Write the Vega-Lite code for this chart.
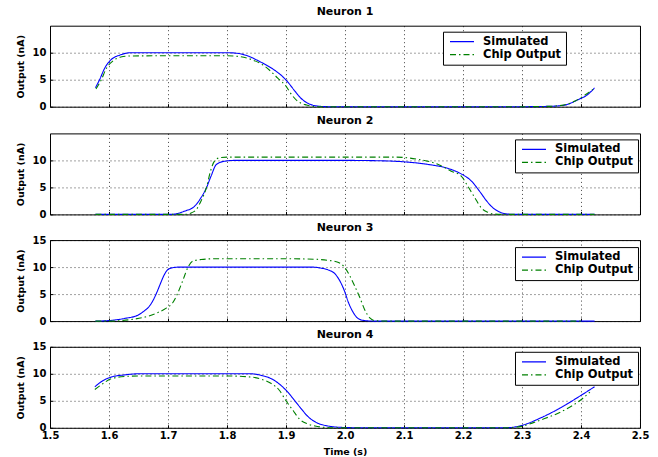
{
  "$schema": "https://vega.github.io/schema/vega-lite/v6.json",
  "background": "white",
  "padding": {"top": 4.7, "left": 14, "right": 10, "bottom": 0},
  "config": {
    "view": {"stroke": "#000", "strokeWidth": 1},
    "font": "DejaVu Sans",
    "concat": {"spacing": 0.7},
    "title": {"font": "DejaVu Sans", "fontSize": 11, "fontWeight": "bold", "color": "#000"},
    "axis": {
      "labelFont": "DejaVu Sans", "labelFontWeight": "bold", "labelFontSize": 10, "labelColor": "#000",
      "titleFont": "DejaVu Sans", "titleFontWeight": "bold", "titleFontSize": 9.5, "titleColor": "#000",
      "grid": true, "gridColor": "#000", "gridDash": [1, 3], "gridOpacity": 0.75, "gridWidth": 1,
      "domain": false, "ticks": true, "tickSize": -3, "tickColor": "#000", "labelPadding": 7, "titlePadding": 7
    },
    "legend": {
      "strokeColor": "#000", "fillColor": "#fff", "padding": 4, "cornerRadius": 0,
      "labelFont": "DejaVu Sans", "labelFontWeight": "bold", "labelFontSize": 11.5, "labelColor": "#000",
      "symbolType": "M-2.4,0H2.4", "symbolSize": 100, "symbolStrokeWidth": 1.2, "symbolOffset": 9, "labelOffset": 15, "rowPadding": 1
    }
  },
  "resolve": {"legend": {"color": "independent"}},
  "datasets": {
    "d": [
      {"n":1,"s":"Simulated","t":1.577,"v":3.5},{"n":1,"s":"Simulated","t":1.584,"v":5.0},{"n":1,"s":"Simulated","t":1.593,"v":7.2},{"n":1,"s":"Simulated","t":1.604,"v":8.75},{"n":1,"s":"Simulated","t":1.618,"v":9.55},{"n":1,"s":"Simulated","t":1.638,"v":10.0},{"n":1,"s":"Simulated","t":1.7,"v":10.0},{"n":1,"s":"Simulated","t":1.8,"v":10.0},{"n":1,"s":"Simulated","t":1.82,"v":9.85},{"n":1,"s":"Simulated","t":1.84,"v":9.2},{"n":1,"s":"Simulated","t":1.853,"v":8.5},{"n":1,"s":"Simulated","t":1.87,"v":7.5},{"n":1,"s":"Simulated","t":1.884,"v":6.5},{"n":1,"s":"Simulated","t":1.895,"v":5.5},{"n":1,"s":"Simulated","t":1.905,"v":4.3},{"n":1,"s":"Simulated","t":1.915,"v":2.9},{"n":1,"s":"Simulated","t":1.925,"v":1.6},{"n":1,"s":"Simulated","t":1.935,"v":0.75},{"n":1,"s":"Simulated","t":1.945,"v":0.3},{"n":1,"s":"Simulated","t":1.96,"v":0.05},{"n":1,"s":"Simulated","t":1.975,"v":0},{"n":1,"s":"Simulated","t":2.1,"v":0},{"n":1,"s":"Simulated","t":2.2,"v":0},{"n":1,"s":"Simulated","t":2.3,"v":0},{"n":1,"s":"Simulated","t":2.34,"v":0.05},{"n":1,"s":"Simulated","t":2.37,"v":0.25},{"n":1,"s":"Simulated","t":2.395,"v":1.3},{"n":1,"s":"Simulated","t":2.412,"v":2.3},{"n":1,"s":"Simulated","t":2.423,"v":3.5},
      {"n":1,"s":"Chip Output","t":1.578,"v":3.3},{"n":1,"s":"Chip Output","t":1.587,"v":5.0},{"n":1,"s":"Chip Output","t":1.595,"v":7.0},{"n":1,"s":"Chip Output","t":1.607,"v":8.5},{"n":1,"s":"Chip Output","t":1.62,"v":9.2},{"n":1,"s":"Chip Output","t":1.638,"v":9.4},{"n":1,"s":"Chip Output","t":1.7,"v":9.43},{"n":1,"s":"Chip Output","t":1.8,"v":9.43},{"n":1,"s":"Chip Output","t":1.82,"v":9.3},{"n":1,"s":"Chip Output","t":1.841,"v":8.75},{"n":1,"s":"Chip Output","t":1.864,"v":7.5},{"n":1,"s":"Chip Output","t":1.886,"v":5.3},{"n":1,"s":"Chip Output","t":1.9,"v":3.8},{"n":1,"s":"Chip Output","t":1.909,"v":2.3},{"n":1,"s":"Chip Output","t":1.92,"v":1.0},{"n":1,"s":"Chip Output","t":1.935,"v":0.3},{"n":1,"s":"Chip Output","t":1.95,"v":0},{"n":1,"s":"Chip Output","t":2.1,"v":0},{"n":1,"s":"Chip Output","t":2.2,"v":0},{"n":1,"s":"Chip Output","t":2.3,"v":0},{"n":1,"s":"Chip Output","t":2.34,"v":0.05},{"n":1,"s":"Chip Output","t":2.367,"v":0.25},{"n":1,"s":"Chip Output","t":2.389,"v":1.0},{"n":1,"s":"Chip Output","t":2.406,"v":2.1},{"n":1,"s":"Chip Output","t":2.42,"v":3.2},
      {"n":2,"s":"Simulated","t":1.577,"v":0},{"n":2,"s":"Simulated","t":1.65,"v":0},{"n":2,"s":"Simulated","t":1.705,"v":0},{"n":2,"s":"Simulated","t":1.728,"v":0.6},{"n":2,"s":"Simulated","t":1.745,"v":1.5},{"n":2,"s":"Simulated","t":1.756,"v":3.1},{"n":2,"s":"Simulated","t":1.765,"v":4.9},{"n":2,"s":"Simulated","t":1.773,"v":7.1},{"n":2,"s":"Simulated","t":1.782,"v":9.25},{"n":2,"s":"Simulated","t":1.796,"v":9.85},{"n":2,"s":"Simulated","t":1.813,"v":10},{"n":2,"s":"Simulated","t":1.9,"v":10},{"n":2,"s":"Simulated","t":2.0,"v":10},{"n":2,"s":"Simulated","t":2.05,"v":9.95},{"n":2,"s":"Simulated","t":2.098,"v":9.75},{"n":2,"s":"Simulated","t":2.141,"v":9.25},{"n":2,"s":"Simulated","t":2.175,"v":8.5},{"n":2,"s":"Simulated","t":2.197,"v":7.5},{"n":2,"s":"Simulated","t":2.214,"v":6.2},{"n":2,"s":"Simulated","t":2.228,"v":4.3},{"n":2,"s":"Simulated","t":2.24,"v":2.5},{"n":2,"s":"Simulated","t":2.251,"v":1.2},{"n":2,"s":"Simulated","t":2.262,"v":0.45},{"n":2,"s":"Simulated","t":2.273,"v":0.1},{"n":2,"s":"Simulated","t":2.29,"v":0},{"n":2,"s":"Simulated","t":2.423,"v":0},
      {"n":2,"s":"Chip Output","t":1.577,"v":0},{"n":2,"s":"Chip Output","t":1.65,"v":0},{"n":2,"s":"Chip Output","t":1.73,"v":0},{"n":2,"s":"Chip Output","t":1.74,"v":0.3},{"n":2,"s":"Chip Output","t":1.748,"v":0.9},{"n":2,"s":"Chip Output","t":1.756,"v":2.5},{"n":2,"s":"Chip Output","t":1.765,"v":4.9},{"n":2,"s":"Chip Output","t":1.772,"v":8.0},{"n":2,"s":"Chip Output","t":1.779,"v":9.9},{"n":2,"s":"Chip Output","t":1.788,"v":10.5},{"n":2,"s":"Chip Output","t":1.8,"v":10.6},{"n":2,"s":"Chip Output","t":1.9,"v":10.6},{"n":2,"s":"Chip Output","t":2.084,"v":10.6},{"n":2,"s":"Chip Output","t":2.124,"v":10.2},{"n":2,"s":"Chip Output","t":2.158,"v":9.25},{"n":2,"s":"Chip Output","t":2.18,"v":8.0},{"n":2,"s":"Chip Output","t":2.197,"v":7.1},{"n":2,"s":"Chip Output","t":2.208,"v":5.25},{"n":2,"s":"Chip Output","t":2.22,"v":3.1},{"n":2,"s":"Chip Output","t":2.231,"v":1.2},{"n":2,"s":"Chip Output","t":2.242,"v":0.4},{"n":2,"s":"Chip Output","t":2.254,"v":0.05},{"n":2,"s":"Chip Output","t":2.27,"v":0},{"n":2,"s":"Chip Output","t":2.423,"v":0},
      {"n":3,"s":"Simulated","t":1.577,"v":0},{"n":3,"s":"Simulated","t":1.6,"v":0.1},{"n":3,"s":"Simulated","t":1.627,"v":0.5},{"n":3,"s":"Simulated","t":1.649,"v":1.1},{"n":3,"s":"Simulated","t":1.66,"v":1.9},{"n":3,"s":"Simulated","t":1.668,"v":2.7},{"n":3,"s":"Simulated","t":1.675,"v":3.9},{"n":3,"s":"Simulated","t":1.681,"v":5.3},{"n":3,"s":"Simulated","t":1.687,"v":6.9},{"n":3,"s":"Simulated","t":1.692,"v":8.2},{"n":3,"s":"Simulated","t":1.697,"v":9.2},{"n":3,"s":"Simulated","t":1.703,"v":9.75},{"n":3,"s":"Simulated","t":1.712,"v":9.95},{"n":3,"s":"Simulated","t":1.72,"v":10},{"n":3,"s":"Simulated","t":1.9,"v":10},{"n":3,"s":"Simulated","t":1.943,"v":10},{"n":3,"s":"Simulated","t":1.96,"v":9.8},{"n":3,"s":"Simulated","t":1.971,"v":9.5},{"n":3,"s":"Simulated","t":1.983,"v":8.75},{"n":3,"s":"Simulated","t":1.991,"v":7.5},{"n":3,"s":"Simulated","t":1.999,"v":5.6},{"n":3,"s":"Simulated","t":2.006,"v":3.4},{"n":3,"s":"Simulated","t":2.014,"v":1.6},{"n":3,"s":"Simulated","t":2.022,"v":0.5},{"n":3,"s":"Simulated","t":2.033,"v":0.1},{"n":3,"s":"Simulated","t":2.05,"v":0},{"n":3,"s":"Simulated","t":2.423,"v":0},
      {"n":3,"s":"Chip Output","t":1.577,"v":0},{"n":3,"s":"Chip Output","t":1.6,"v":0},{"n":3,"s":"Chip Output","t":1.638,"v":0.3},{"n":3,"s":"Chip Output","t":1.666,"v":0.9},{"n":3,"s":"Chip Output","t":1.683,"v":1.6},{"n":3,"s":"Chip Output","t":1.697,"v":2.4},{"n":3,"s":"Chip Output","t":1.708,"v":3.4},{"n":3,"s":"Chip Output","t":1.717,"v":5.3},{"n":3,"s":"Chip Output","t":1.725,"v":7.5},{"n":3,"s":"Chip Output","t":1.734,"v":10.0},{"n":3,"s":"Chip Output","t":1.742,"v":11.1},{"n":3,"s":"Chip Output","t":1.756,"v":11.4},{"n":3,"s":"Chip Output","t":1.78,"v":11.55},{"n":3,"s":"Chip Output","t":1.9,"v":11.55},{"n":3,"s":"Chip Output","t":1.95,"v":11.45},{"n":3,"s":"Chip Output","t":1.971,"v":11.25},{"n":3,"s":"Chip Output","t":1.988,"v":10.9},{"n":3,"s":"Chip Output","t":1.999,"v":10.0},{"n":3,"s":"Chip Output","t":2.008,"v":8.4},{"n":3,"s":"Chip Output","t":2.016,"v":6.6},{"n":3,"s":"Chip Output","t":2.025,"v":4.4},{"n":3,"s":"Chip Output","t":2.033,"v":2.2},{"n":3,"s":"Chip Output","t":2.042,"v":0.6},{"n":3,"s":"Chip Output","t":2.05,"v":0.1},{"n":3,"s":"Chip Output","t":2.07,"v":0},{"n":3,"s":"Chip Output","t":2.4,"v":0},
      {"n":4,"s":"Simulated","t":1.576,"v":7.6},{"n":4,"s":"Simulated","t":1.59,"v":8.75},{"n":4,"s":"Simulated","t":1.604,"v":9.4},{"n":4,"s":"Simulated","t":1.627,"v":9.8},{"n":4,"s":"Simulated","t":1.649,"v":10},{"n":4,"s":"Simulated","t":1.8,"v":10},{"n":4,"s":"Simulated","t":1.841,"v":10},{"n":4,"s":"Simulated","t":1.858,"v":9.7},{"n":4,"s":"Simulated","t":1.875,"v":9.1},{"n":4,"s":"Simulated","t":1.892,"v":7.8},{"n":4,"s":"Simulated","t":1.903,"v":6.6},{"n":4,"s":"Simulated","t":1.915,"v":5.0},{"n":4,"s":"Simulated","t":1.926,"v":3.5},{"n":4,"s":"Simulated","t":1.937,"v":2.1},{"n":4,"s":"Simulated","t":1.951,"v":1.0},{"n":4,"s":"Simulated","t":1.968,"v":0.4},{"n":4,"s":"Simulated","t":2.0,"v":0.05},{"n":4,"s":"Simulated","t":2.03,"v":0},{"n":4,"s":"Simulated","t":2.27,"v":0},{"n":4,"s":"Simulated","t":2.29,"v":0.2},{"n":4,"s":"Simulated","t":2.3,"v":0.45},{"n":4,"s":"Simulated","t":2.333,"v":1.9},{"n":4,"s":"Simulated","t":2.367,"v":3.8},{"n":4,"s":"Simulated","t":2.4,"v":6.0},{"n":4,"s":"Simulated","t":2.423,"v":7.6},
      {"n":4,"s":"Chip Output","t":1.576,"v":7.1},{"n":4,"s":"Chip Output","t":1.59,"v":8.2},{"n":4,"s":"Chip Output","t":1.604,"v":9.1},{"n":4,"s":"Chip Output","t":1.627,"v":9.5},{"n":4,"s":"Chip Output","t":1.65,"v":9.6},{"n":4,"s":"Chip Output","t":1.8,"v":9.6},{"n":4,"s":"Chip Output","t":1.841,"v":9.4},{"n":4,"s":"Chip Output","t":1.858,"v":9.0},{"n":4,"s":"Chip Output","t":1.875,"v":8.2},{"n":4,"s":"Chip Output","t":1.889,"v":6.9},{"n":4,"s":"Chip Output","t":1.9,"v":5.0},{"n":4,"s":"Chip Output","t":1.912,"v":3.2},{"n":4,"s":"Chip Output","t":1.923,"v":1.6},{"n":4,"s":"Chip Output","t":1.937,"v":0.7},{"n":4,"s":"Chip Output","t":1.954,"v":0.25},{"n":4,"s":"Chip Output","t":1.98,"v":0},{"n":4,"s":"Chip Output","t":2.27,"v":0},{"n":4,"s":"Chip Output","t":2.29,"v":0.1},{"n":4,"s":"Chip Output","t":2.3,"v":0.3},{"n":4,"s":"Chip Output","t":2.333,"v":1.5},{"n":4,"s":"Chip Output","t":2.367,"v":3.0},{"n":4,"s":"Chip Output","t":2.4,"v":5.2},{"n":4,"s":"Chip Output","t":2.415,"v":6.6}
    ]
  },
  "data": {"name": "d"},
  "vconcat": [
    {
      "title": {"text": "Neuron 1", "offset": 8.8}, "width": 590, "height": 81,
      "transform": [{"filter": "datum.n == 1"}],
      "mark": {"type": "line", "interpolate": "monotone", "strokeWidth": 1.1},
      "encoding": {
        "x": {"field": "t", "type": "quantitative", "scale": {"domain": [1.5, 2.5], "nice": false, "zero": false}, "axis": {"values": [1.5,1.6,1.7,1.8,1.9,2.0,2.1,2.2,2.3,2.4,2.5], "labels": false, "title": null}},
        "y": {"field": "v", "type": "quantitative", "scale": {"domain": [0, 15], "nice": false}, "axis": {"values": [0, 5, 10], "title": "Output (nA)"}},
        "color": {"field": "s", "type": "nominal", "scale": {"domain": ["Simulated", "Chip Output"], "range": ["#0000ff", "#008000"]}, "legend": {"title": null, "orient": "none", "legendX": 393, "legendY": 6, "encode": {"symbols": {"update": {"strokeDash": {"signal": "datum.value === 'Chip Output' ? [6, 3, 1.5, 3] : [1, 0]"}}}}}},
        "strokeDash": {"field": "s", "type": "nominal", "scale": {"domain": ["Simulated", "Chip Output"], "range": [[1, 0], [6, 3, 1.5, 3]]}, "legend": null}
      }
    },
    {
      "title": {"text": "Neuron 2", "offset": 7.8}, "width": 590, "height": 81,
      "transform": [{"filter": "datum.n == 2"}],
      "mark": {"type": "line", "interpolate": "monotone", "strokeWidth": 1.1},
      "encoding": {
        "x": {"field": "t", "type": "quantitative", "scale": {"domain": [1.5, 2.5], "nice": false, "zero": false}, "axis": {"values": [1.5,1.6,1.7,1.8,1.9,2.0,2.1,2.2,2.3,2.4,2.5], "labels": false, "title": null}},
        "y": {"field": "v", "type": "quantitative", "scale": {"domain": [0, 15], "nice": false}, "axis": {"values": [0, 5, 10], "title": "Output (nA)"}},
        "color": {"field": "s", "type": "nominal", "scale": {"domain": ["Simulated", "Chip Output"], "range": ["#0000ff", "#008000"]}, "legend": {"title": null, "orient": "none", "legendX": 465, "legendY": 6, "encode": {"symbols": {"update": {"strokeDash": {"signal": "datum.value === 'Chip Output' ? [6, 3, 1.5, 3] : [1, 0]"}}}}}},
        "strokeDash": {"field": "s", "type": "nominal", "scale": {"domain": ["Simulated", "Chip Output"], "range": [[1, 0], [6, 3, 1.5, 3]]}, "legend": null}
      }
    },
    {
      "title": {"text": "Neuron 3", "offset": 4.3, "dy": 1.8}, "width": 590, "height": 81,
      "transform": [{"filter": "datum.n == 3"}],
      "mark": {"type": "line", "interpolate": "monotone", "strokeWidth": 1.1},
      "encoding": {
        "x": {"field": "t", "type": "quantitative", "scale": {"domain": [1.5, 2.5], "nice": false, "zero": false}, "axis": {"values": [1.5,1.6,1.7,1.8,1.9,2.0,2.1,2.2,2.3,2.4,2.5], "labels": false, "title": null}},
        "y": {"field": "v", "type": "quantitative", "scale": {"domain": [0, 15], "nice": false}, "axis": {"values": [0, 5, 10, 15], "title": "Output (nA)"}},
        "color": {"field": "s", "type": "nominal", "scale": {"domain": ["Simulated", "Chip Output"], "range": ["#0000ff", "#008000"]}, "legend": {"title": null, "orient": "none", "legendX": 465, "legendY": 7, "encode": {"symbols": {"update": {"strokeDash": {"signal": "datum.value === 'Chip Output' ? [6, 3, 1.5, 3] : [1, 0]"}}}}}},
        "strokeDash": {"field": "s", "type": "nominal", "scale": {"domain": ["Simulated", "Chip Output"], "range": [[1, 0], [6, 3, 1.5, 3]]}, "legend": null}
      }
    },
    {
      "title": {"text": "Neuron 4", "offset": 4.3, "dy": 2.4}, "width": 590, "height": 81,
      "transform": [{"filter": "datum.n == 4"}],
      "mark": {"type": "line", "interpolate": "monotone", "strokeWidth": 1.1},
      "encoding": {
        "x": {"field": "t", "type": "quantitative", "scale": {"domain": [1.5, 2.5], "nice": false, "zero": false}, "axis": {"values": [1.5,1.6,1.7,1.8,1.9,2.0,2.1,2.2,2.3,2.4,2.5], "title": "Time (s)", "labelPadding": 6, "titlePadding": 6, "labelFlush": false}},
        "y": {"field": "v", "type": "quantitative", "scale": {"domain": [0, 15], "nice": false}, "axis": {"values": [0, 5, 10, 15], "title": "Output (nA)"}},
        "color": {"field": "s", "type": "nominal", "scale": {"domain": ["Simulated", "Chip Output"], "range": ["#0000ff", "#008000"]}, "legend": {"title": null, "orient": "none", "legendX": 465, "legendY": 5, "encode": {"symbols": {"update": {"strokeDash": {"signal": "datum.value === 'Chip Output' ? [6, 3, 1.5, 3] : [1, 0]"}}}}}},
        "strokeDash": {"field": "s", "type": "nominal", "scale": {"domain": ["Simulated", "Chip Output"], "range": [[1, 0], [6, 3, 1.5, 3]]}, "legend": null}
      }
    }
  ]
}
